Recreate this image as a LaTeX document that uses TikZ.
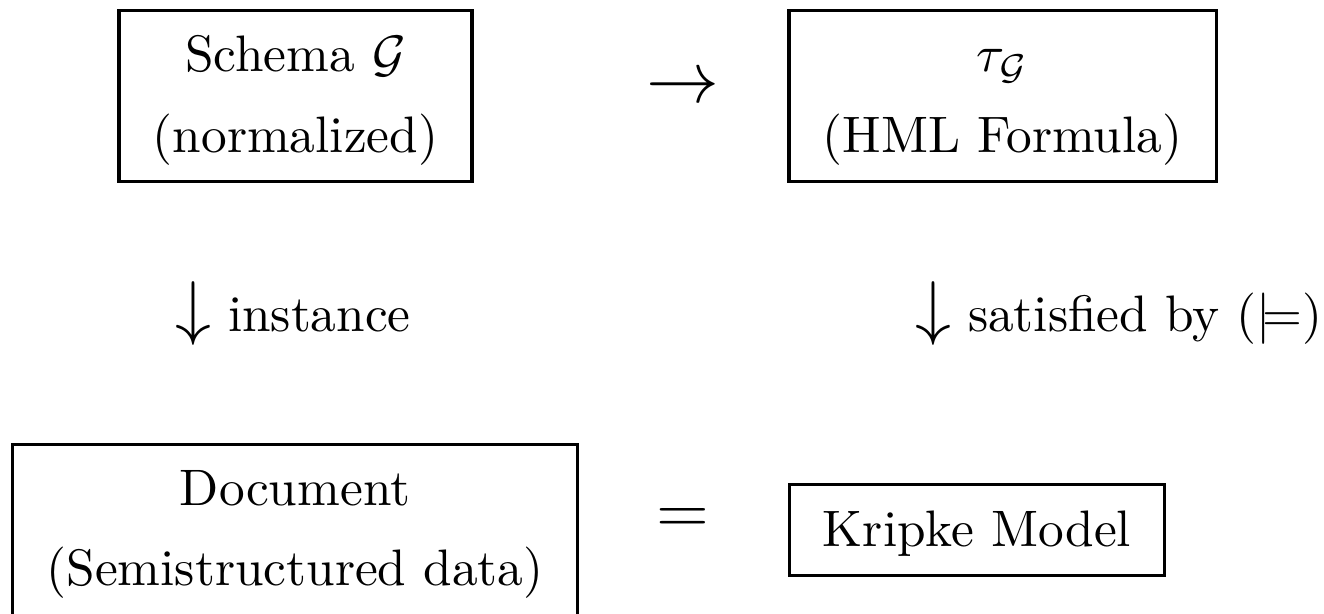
\RequirePackage{fix-cm}
\documentclass[tikz,border=0pt]{standalone}
\begin{document}
\begin{tikzpicture}[x=0.1949pt,y=-0.1949pt]
\tikzstyle{box}=[rectangle,draw,line width=0.6pt,inner xsep=6.6pt,inner ysep=1pt,align=center,font=\fontsize{10}{15.6}\selectfont]
  \tikzstyle{sym}=[inner sep=0pt,font=\fontsize{14.2}{17}\selectfont]
  \tikzstyle{lbl}=[inner sep=0pt,font=\fontsize{10}{12}\selectfont]
  \useasboundingbox (0,0) rectangle (1324,613);

  \node[box] (schema) at (295.5,96) {\strut Schema $\mathcal{G}$\\(normalized)\strut};
  \node[box] (formula) at (1002.5,96) {\strut $\tau_{\mathcal{G}}$\\(HML Formula)\strut};
  \node[box,anchor=north] (doc) at (295,442.5) {\strut Document\\(Semistructured data)\rule[-7pt]{0pt}{7pt}};
  \node[box] (kripke) at (977,530) {\strut Kripke Model\strut};

  \node[sym] (to) at (682.5,89) {$\rightarrow$};
  \node[sym,font=\fontsize{13.5}{16}\selectfont] (eq) at (683,521) {$=$};
  \node[lbl,anchor=base west] (inst) at (174,331) {{\fontsize{14}{16}\selectfont$\downarrow$} instance};
  \node[lbl,anchor=base west] (sat) at (914,331) {{\fontsize{14}{16}\selectfont$\downarrow$} satisfied by $(\models)$};
\end{tikzpicture}
\end{document}
